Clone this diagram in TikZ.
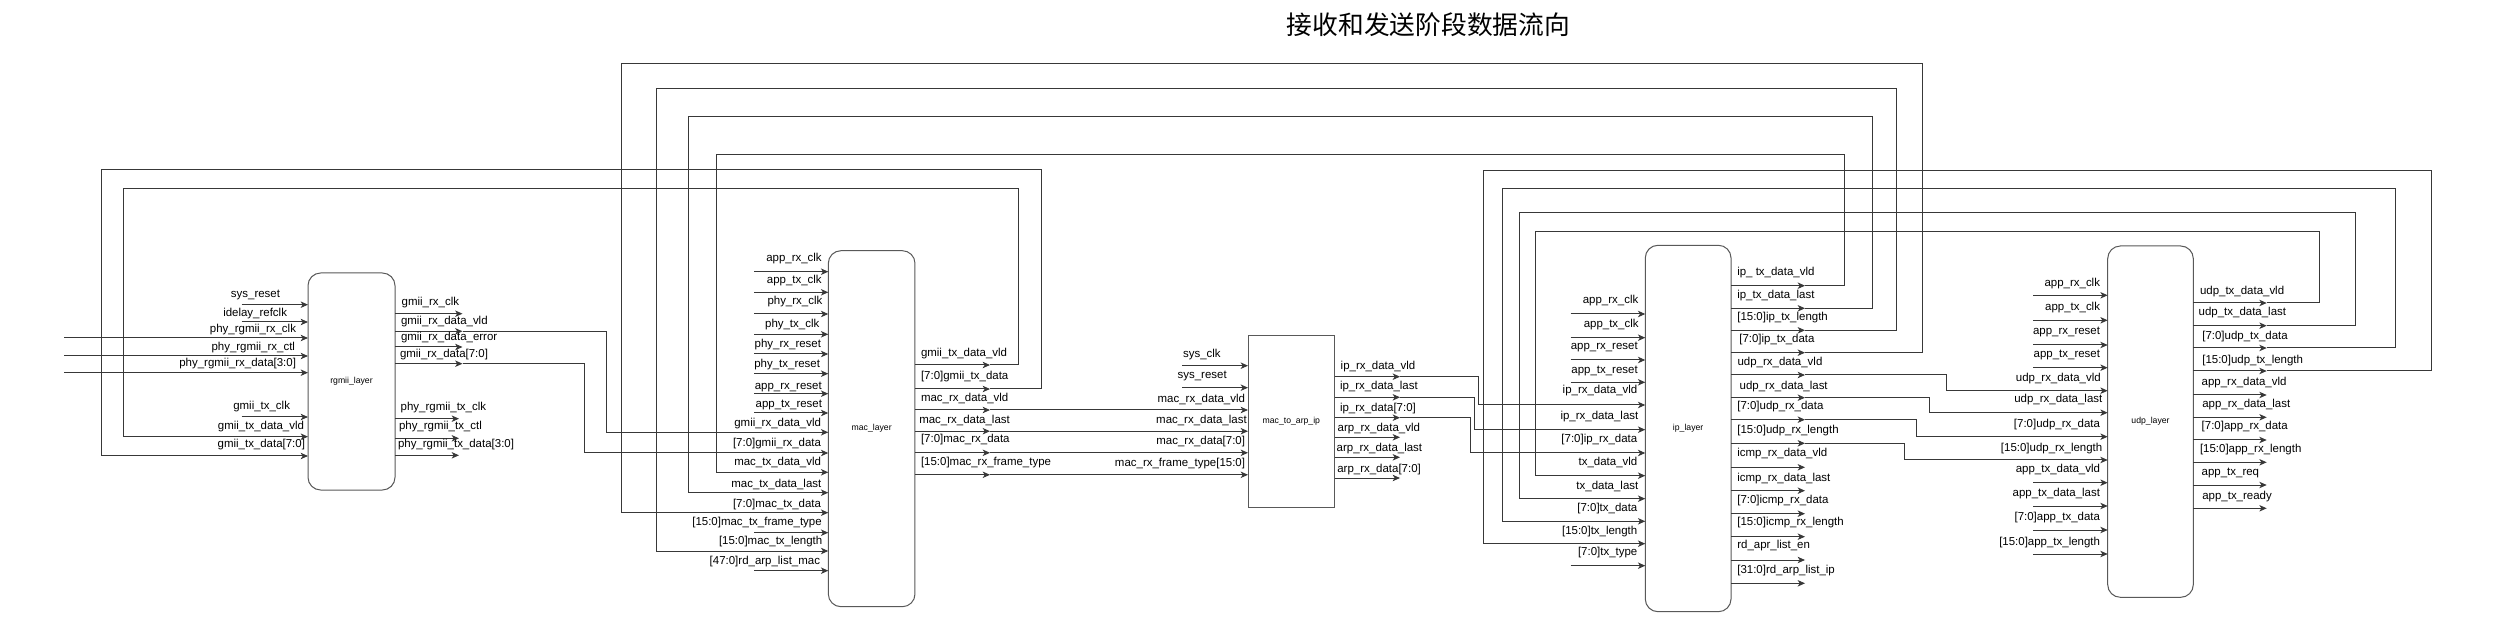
\documentclass[tikz,border=0pt]{standalone}
\usepackage{fontspec}
\setmainfont{Liberation Sans}
\newfontfamily\cjk{Noto Sans CJK SC}
\usetikzlibrary{arrows.meta}
\tikzset{
  wire/.style={draw=black!78, line width=0.75pt},
  arr/.style={-{Stealth[length=5.5pt,width=4.8pt,inset=1.5pt]}},
  lbl/.style={font=\fontsize{8.6}{10}\selectfont, inner sep=0pt, outer sep=0pt, text=black},
  blk/.style={draw=black!65, line width=0.75pt, rounded corners=9.5pt, font=\fontsize{6.5}{8}\selectfont, inner sep=0pt, fill=white},
  sqblk/.style={blk, rounded corners=0pt},
  ttl/.style={font=\cjk\fontsize{19.3}{22}\selectfont, inner sep=0pt},
}
% input port: name, y, label dx, label dy, text
\newcommand\inp[5]{%
  \coordinate (#1) at (\pBX,#2);
  \coordinate (#1-s) at (\pSX,#2);
  \draw[wire,arr] (#1-s) -- (#1);
  \node[lbl,anchor=base east] (#1-l) at (\pBX-#3,#2-#4) {#5};
}
% output port: name, y, label dx, label dy, text
\newcommand\outp[5]{%
  \coordinate (#1) at (\pBX,#2);
  \coordinate (#1-e) at (\pEX,#2);
  \draw[wire,arr] (#1) -- (#1-e);
  \node[lbl,anchor=base west] (#1-l) at (\pBX+#3,#2-#4) {#5};
}
\begin{document}
\begin{tikzpicture}[x=0.75pt,y=-0.75pt]
\fill[white] (0,0) rectangle (2510,634);
\useasboundingbox (0,0) rectangle (2510,634);

\node[ttl] (title) at (1428.5,25) {接收和发送阶段数据流向};

% blocks
\node[blk, minimum width=65.25pt, minimum height=162.75pt] (rgmii) at (351.5,381.5) {rgmii\_layer};
\node[blk, minimum width=65pt, minimum height=267pt] (mac) at (871.65,428.7) {mac\_layer};
\node[sqblk, minimum width=65pt, minimum height=128.5pt] (m2a) at (1291.35,421.65) {mac\_to\_arp\_ip};
\node[blk, minimum width=64.3pt, minimum height=274.8pt] (ip) at (1688.15,428.5) {ip\_layer};
\node[blk, minimum width=64.2pt, minimum height=263.5pt] (udp) at (2150.5,421.65) {udp\_layer};

% ---------------- rgmii ports
\def\pBX{308}\def\pSX{241.7}
\inp{rgi1}{304.7}{28}{6.7}{sys\_reset}
\inp{rgi2}{322}{21}{5.3}{idelay\_refclk}
\inp{rgi3}{338}{12}{5}{phy\_rgmii\_rx\_clk}
\inp{rgi4}{356}{13}{5}{phy\_rgmii\_rx\_ctl}
\inp{rgi5}{372.7}{12}{6}{phy\_rgmii\_rx\_data[3:0]}
\inp{rgi6}{417}{18}{7}{gmii\_tx\_clk}
\inp{rgi7}{436.7}{4}{7}{gmii\_tx\_data\_vld}
\inp{rgi8}{456}{3}{8.3}{gmii\_tx\_data[7:0]}
\def\pBX{395}\def\pEX{462.5}
\outp{rgo1}{313.7}{6.7}{7.7}{gmii\_rx\_clk}
\outp{rgo2}{331.3}{6}{6.3}{gmii\_rx\_data\_vld}
\outp{rgo3}{347}{6}{6.3}{gmii\_rx\_data\_error}
\outp{rgo4}{363.7}{5}{5.7}{gmii\_rx\_data[7:0]}
\def\pEX{459}
\outp{rgo5}{418.7}{5.7}{8}{phy\_rgmii\_tx\_clk}
\outp{rgo6}{438.3}{4}{8.6}{phy\_rgmii\_tx\_ctl}
\outp{rgo7}{455.3}{3}{7.6}{phy\_rgmii\_tx\_data[3:0]}

% ---------------- mac ports
\def\pBX{828.3}\def\pSX{754.3}
\inp{maci1}{271.7}{6.6}{9.7}{app\_rx\_clk}
\inp{maci2}{292.3}{6.6}{8.3}{app\_tx\_clk}
\inp{maci3}{314}{6}{9}{phy\_rx\_clk}
\inp{maci4}{334.3}{9}{6.3}{phy\_tx\_clk}
\inp{maci5}{354}{7.3}{6.3}{phy\_rx\_reset}
\inp{maci6}{373.7}{8.3}{6}{phy\_tx\_reset}
\inp{maci7}{393.7}{6.6}{4}{app\_rx\_reset}
\inp{maci8}{413}{6.3}{5.7}{app\_tx\_reset}
\inp{maci9}{432.3}{7.3}{5.6}{gmii\_rx\_data\_vld}
\inp{maci10}{453}{7.3}{6.7}{[7:0]gmii\_rx\_data}
\inp{maci11}{472.3}{7.3}{6.6}{mac\_tx\_data\_vld}
\inp{maci12}{492.7}{7}{5}{mac\_tx\_data\_last}
\inp{maci13}{512.7}{7.3}{5}{[7:0]mac\_tx\_data}
\inp{maci14}{532.7}{6.6}{7}{[15:0]mac\_tx\_frame\_type}
\inp{maci15}{551}{6}{6.3}{[15:0]mac\_tx\_length}
\inp{maci16}{570.7}{8.3}{6}{[47:0]rd\_arp\_list\_mac}
\def\pBX{915}\def\pEX{990}
\outp{maco1}{365}{6}{8.7}{gmii\_tx\_data\_vld}
\outp{maco2}{389}{6}{9.3}{[7:0]gmii\_tx\_data}
\outp{maco3}{410}{6}{8.3}{mac\_rx\_data\_vld}
\outp{maco4}{431.2}{4.3}{8}{mac\_rx\_data\_last}
\outp{maco5}{452.8}{6}{10}{[7:0]mac\_rx\_data}
\outp{maco6}{474.8}{6}{9.3}{[15:0]mac\_rx\_frame\_type}

% ---------------- mac_to_arp_ip ports
\def\pBX{1248}\def\pSX{1182.3}
\inp{m2ai1}{365.7}{27.3}{7.7}{sys\_clk}
\inp{m2ai2}{387.7}{21.3}{8.7}{sys\_reset}
\inp{m2ai3}{410}{3}{7.5}{mac\_rx\_data\_vld}
\inp{m2ai4}{431.2}{1.3}{8}{mac\_rx\_data\_last}
\inp{m2ai5}{452.8}{3}{8}{mac\_rx\_data[7:0]}
\inp{m2ai6}{474.8}{3}{8.4}{mac\_rx\_frame\_type[15:0]}
\def\pBX{1334.7}\def\pEX{1400}
\outp{m2ao1}{376.7}{6}{7}{ip\_rx\_data\_vld}
\outp{m2ao2}{397.3}{5.3}{7.6}{ip\_rx\_data\_last}
\outp{m2ao3}{417.7}{5.3}{6.4}{ip\_rx\_data[7:0]}
\outp{m2ao4}{437.3}{3}{6}{arp\_rx\_data\_vld}
\outp{m2ao5}{457.3}{2}{6.3}{arp\_rx\_data\_last}
\outp{m2ao6}{478}{2.6}{5.7}{arp\_rx\_data[7:0]}

% ---------------- ip ports
\def\pBX{1645.3}\def\pSX{1570.7}
\inp{ipi1}{314}{7}{10.3}{app\_rx\_clk}
\inp{ipi2}{337.7}{6.7}{9.7}{app\_tx\_clk}
\inp{ipi3}{360}{7.6}{10.3}{app\_rx\_reset}
\inp{ipi4}{382.3}{7.6}{8.3}{app\_tx\_reset}
\inp{ipi5}{405}{8}{11}{ip\_rx\_data\_vld}
\inp{ipi6}{429.7}{7}{10}{ip\_rx\_data\_last}
\inp{ipi7}{453}{8}{10}{[7:0]ip\_rx\_data}
\inp{ipi8}{475.7}{8}{10.4}{tx\_data\_vld}
\inp{ipi9}{498.7}{7}{9}{tx\_data\_last}
\inp{ipi10}{521.3}{8}{9.6}{[7:0]tx\_data}
\inp{ipi11}{543.7}{8}{9}{[15:0]tx\_length}
\inp{ipi12}{565.7}{8}{10}{[7:0]tx\_type}
\def\pBX{1731}\def\pEX{1805}
\outp{ipo1}{285.7}{6.3}{10}{ip\_ tx\_data\_vld}
\outp{ipo2}{308.3}{6.3}{9.6}{ip\_tx\_data\_last}
\outp{ipo3}{330.3}{6.3}{9.6}{[15:0]ip\_tx\_length}
\outp{ipo4}{352.7}{8.3}{10}{[7:0]ip\_tx\_data}
\outp{ipo5}{375}{6.6}{9.3}{udp\_rx\_data\_vld}
\outp{ipo6}{397.7}{8.7}{8}{udp\_rx\_data\_last}
\outp{ipo7}{419.7}{6.3}{10}{[7:0]udp\_rx\_data}
\outp{ipo8}{443.3}{6.3}{9.6}{[15:0]udp\_rx\_length}
\outp{ipo9}{467.3}{6.3}{11}{icmp\_rx\_data\_vld}
\outp{ipo10}{490.7}{6.3}{9}{icmp\_rx\_data\_last}
\outp{ipo11}{513.7}{6.3}{10}{[7:0]icmp\_rx\_data}
\outp{ipo12}{536.7}{6.3}{11}{[15:0]icmp\_rx\_length}
\outp{ipo13}{560}{6.3}{11.7}{rd\_apr\_list\_en}
\outp{ipo14}{583.3}{6.3}{9.6}{[31:0]rd\_arp\_list\_ip}

% ---------------- udp ports
\def\pBX{2107.7}\def\pSX{2033.3}
\inp{udpi1}{295.3}{7.7}{9}{app\_rx\_clk}
\inp{udpi2}{320.3}{7.7}{9.3}{app\_tx\_clk}
\inp{udpi3}{345}{7.7}{10}{app\_rx\_reset}
\inp{udpi4}{367.7}{7.7}{9.7}{app\_tx\_reset}
\inp{udpi5}{390.7}{7}{9.4}{udp\_rx\_data\_vld}
\inp{udpi6}{412.7}{5.4}{9.7}{udp\_rx\_data\_last}
\inp{udpi7}{436.7}{7.7}{8.7}{[7:0]udp\_rx\_data}
\inp{udpi8}{460}{5.4}{8}{[15:0]udp\_rx\_length}
\inp{udpi9}{482.7}{7.7}{9.7}{app\_tx\_data\_vld}
\inp{udpi10}{506}{7.7}{9}{app\_tx\_data\_last}
\inp{udpi11}{530}{7.7}{9.7}{[7:0]app\_tx\_data}
\inp{udpi12}{554}{7.7}{8.3}{[15:0]app\_tx\_length}
\def\pBX{2193.3}\def\pEX{2266.7}
\outp{udpo1}{303}{6.7}{8.3}{udp\_tx\_data\_vld}
\outp{udpo2}{325.7}{5.4}{10}{udp\_tx\_data\_last}
\outp{udpo3}{348}{9}{8.3}{[7:0]udp\_tx\_data}
\outp{udpo4}{371}{9}{7.3}{[15:0]udp\_tx\_length}
\outp{udpo5}{395}{8.4}{9.7}{app\_rx\_data\_vld}
\outp{udpo6}{417.3}{9}{9.6}{app\_rx\_data\_last}
\outp{udpo7}{440}{8.4}{10.3}{[7:0]app\_rx\_data}
\outp{udpo8}{462.3}{6.7}{9.6}{[15:0]app\_rx\_length}
\outp{udpo9}{485}{8.4}{9.7}{app\_tx\_req}
\outp{udpo10}{508.3}{9}{8.7}{app\_tx\_ready}

% ---------------- external inputs
\coordinate (extx) at (64,0);
\coordinate (e3) at (rgi3 -| extx);
\coordinate (e4) at (rgi4 -| extx);
\coordinate (e5) at (rgi5 -| extx);
\draw[wire] (e3) -- (rgi3-s);
\draw[wire] (e4) -- (rgi4-s);
\draw[wire] (e5) -- (rgi5-s);

% ---------------- rgmii -> mac
\coordinate (k1) at (606.7,0);
\coordinate (k2) at (584.3,0);
\draw[wire] (rgo2-e) -- (rgo2-e -| k1) |- (maci9-s);
\draw[wire] (rgo4-e) -- (rgo4-e -| k2) |- (maci10-s);

% ---------------- mac -> rgmii loops
\coordinate (gA) at (1041.3,169.3); \coordinate (gB) at (101.3,169.3);
\coordinate (vA) at (1018.3,188.7); \coordinate (vB) at (123.3,188.7);
\draw[wire] (maco2-e) -| (gA) -- (gB) |- (rgi8-s);
\draw[wire] (maco1-e) -| (vA) -- (vB) |- (rgi7-s);

% ---------------- mac -> mac_to_arp_ip
\draw[wire] (maco3-e) -- (m2ai3-s);
\draw[wire] (maco4-e) -- (m2ai4-s);
\draw[wire] (maco5-e) -- (m2ai5-s);
\draw[wire] (maco6-e) -- (m2ai6-s);

% ---------------- mac_to_arp_ip -> ip
\coordinate (k3) at (1478.3,0);
\coordinate (k4) at (1474,0);
\coordinate (k5) at (1470.3,0);
\draw[wire] (m2ao1-e) -- (m2ao1-e -| k3) |- (ipi5-s);
\draw[wire] (m2ao2-e) -- (m2ao2-e -| k4) |- (ipi6-s);
\draw[wire] (m2ao3-e) -- (m2ao3-e -| k5) |- (ipi7-s);

% ---------------- ip -> udp
\coordinate (k6) at (1946.7,0);
\coordinate (k7) at (1929.7,0);
\coordinate (k8) at (1916,0);
\coordinate (k9) at (1904.3,0);
\draw[wire] (ipo5-e) -- (ipo5-e -| k6) |- (udpi5-s);
\draw[wire] (ipo6-e) -- (ipo6-e -| k7) |- (udpi6-s);
\draw[wire] (ipo7-e) -- (ipo7-e -| k8) |- (udpi7-s);
\draw[wire] (ipo8-e) -- (ipo8-e -| k9) |- (udpi8-s);

% ---------------- ip -> mac top loops
\coordinate (T1a) at (1922.7,64);    \coordinate (T1b) at (621.3,64);
\coordinate (T2a) at (1896,89);      \coordinate (T2b) at (656,89);
\coordinate (T3a) at (1872,117);     \coordinate (T3b) at (688.3,117);
\coordinate (T4a) at (1844.3,154.7); \coordinate (T4b) at (716.3,154.7);
\draw[wire] (ipo4-e) -| (T1a) -- (T1b) |- (maci13-s);
\draw[wire] (ipo3-e) -| (T2a) -- (T2b) |- (maci15-s);
\draw[wire] (ipo2-e) -| (T3a) -- (T3b) |- (maci12-s);
\draw[wire] (ipo1-e) -| (T4a) -- (T4b) |- (maci11-s);

% ---------------- udp -> ip loops
\coordinate (R1a) at (2319.5,231.7); \coordinate (R1b) at (1535.5,231.7);
\coordinate (R2a) at (2355.7,212.2); \coordinate (R2b) at (1519.2,212.2);
\coordinate (R3a) at (2395.7,189);   \coordinate (R3b) at (1502.3,189);
\coordinate (R4a) at (2431.7,171);   \coordinate (R4b) at (1483.3,171);
\draw[wire] (udpo1-e) -| (R1a) -- (R1b) |- (ipi8-s);
\draw[wire] (udpo2-e) -| (R2a) -- (R2b) |- (ipi9-s);
\draw[wire] (udpo3-e) -| (R3a) -- (R3b) |- (ipi10-s);
\draw[wire] (udpo4-e) -| (R4a) -- (R4b) |- (ipi11-s);
\end{tikzpicture}
\end{document}
